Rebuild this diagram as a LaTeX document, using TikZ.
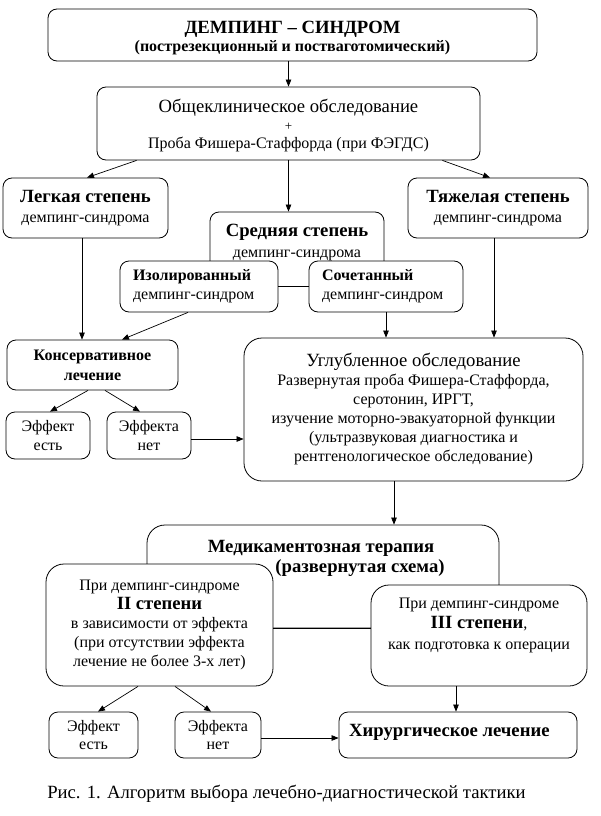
\documentclass[tikz,border=0pt]{standalone}
\usepackage{fontspec}
\setmainfont{Liberation Serif}
\usetikzlibrary{arrows.meta,calc}
\begin{document}
\begin{tikzpicture}[x=1pt,y=-1pt,
  box/.style={draw, line width=0.8pt, rounded corners=9pt, fill=white, inner sep=0pt, align=center},
  bigbox/.style={box, rounded corners=18pt},
  txt/.style={inner sep=0pt, align=center},
  arr/.style={line width=0.7pt, -{Triangle[length=7pt,width=5.5pt]}},
  ln/.style={line width=0.7pt},
  small/.style={font=\fontsize{16}{19}\selectfont},
  hd/.style={font=\fontsize{18.67}{20}\selectfont\bfseries}
]
\useasboundingbox (0,0) rectangle (601,816);
\fill[white] (0,0) rectangle (601,816);

% title
\node[box, minimum width=489, minimum height=52] (title) at (292.5,35) {};
\node[txt, hd] (titleT1) at (292.5,29) {ДЕМПИНГ – СИНДРОМ};
\node[txt, font=\fontsize{16}{20}\selectfont\bfseries] (titleT2) at (292.5,48) {(пострезекционный и постваготомический)};
% general exam
\node[box, minimum width=383, minimum height=73] (obsh) at (288.5,123.5) {};
\node[txt, font=\fontsize{16}{18}\selectfont] (obshT) at (288.5,126)
  {{\fontsize{18.67}{18}\selectfont Общеклиническое обследование}\\ {\fontsize{13}{18}\selectfont +}\\ Проба Фишера-Стаффорда (при ФЭГДС)};

% degrees
\node[box, minimum width=165, minimum height=60, font=\fontsize{16}{20}\selectfont] (legk) at (85.5,208)
  {{\fontsize{18.67}{20}\selectfont\bfseries Легкая степень}\\ демпинг-синдрома};
\node[box, minimum width=180, minimum height=60, font=\fontsize{16}{20}\selectfont] (tyazh) at (498,208)
  {{\fontsize{18.67}{20}\selectfont\bfseries Тяжелая степень}\\ демпинг-синдрома};
\node[box, minimum width=174, minimum height=74.5] (sredn) at (297,249.25) {};
\node[txt, font=\fontsize{16}{20.5}\selectfont] (srednT) at (297,242.5)
  {{\fontsize{18.67}{20.5}\selectfont\bfseries Средняя степень}\\ демпинг-синдрома};
\node[box, minimum width=158, minimum height=51, align=left, small, text width=132] (izol) at (199,286.5)
  {{\bfseries Изолированный}\\ демпинг-синдром};
\node[box, minimum width=154, minimum height=51, align=left, small, text width=128] (sochet) at (386,286.5)
  {{\bfseries Сочетанный}\\ демпинг-синдром};

% conservative
\node[box, minimum width=171, minimum height=50, font=\fontsize{16}{20}\selectfont\bfseries] (konserv) at (92.5,365)
  {Консервативное\\ лечение};
\node[box, minimum width=84, minimum height=47, font=\fontsize{16}{18.5}\selectfont] (eff1) at (48,435.5) {Эффект\\ есть};
\node[box, minimum width=84, minimum height=47, font=\fontsize{16}{18.5}\selectfont] (effno1) at (149,435.5) {Эффекта\\ нет};

% deep exam
\node[bigbox, minimum width=339, minimum height=143, small] (uglub) at (413.5,409.5)
  {{\fontsize{18.67}{19}\selectfont Углубленное обследование}\\ Развернутая проба Фишера-Стаффорда,\\ серотонин, ИРГТ,\\ изучение моторно-эвакуаторной функции\\ (ультразвуковая диагностика и\\ рентгенологическое обследование)};

% drug therapy
\node[bigbox, minimum width=352, minimum height=103] (medik) at (323,576.5) {};
\node[txt, hd] (medikT1) at (321,548) {Медикаментозная терапия};
\node[txt, hd] (medikT2) at (360,568) {(развернутая схема)};
\node[bigbox, minimum width=227, minimum height=122, small] (pri2) at (159.5,625)
  {При демпинг-синдроме\\ {\fontsize{18.67}{19}\selectfont\bfseries II степени}\\ в зависимости от эффекта\\ (при отсутствии эффекта\\ лечение не более 3-х лет)};
\node[bigbox, minimum width=216, minimum height=101] (pri3) at (479,635.5) {};
\node[txt, font=\fontsize{16}{20.5}\selectfont] (pri3T) at (479,625)
  {При демпинг-синдроме\\ {\fontsize{18.67}{20.5}\selectfont\bfseries III степени},\\ как подготовка к операции};

\node[box, minimum width=89, minimum height=46, font=\fontsize{16}{18.5}\selectfont] (eff2) at (93.5,735) {Эффект\\ есть};
\node[box, minimum width=86, minimum height=46, font=\fontsize{16}{18.5}\selectfont] (effno2) at (218,735) {Эффекта\\ нет};
\node[box, minimum width=238, minimum height=46] (hirurg) at (458,735) {};
\node[txt, anchor=west, hd] (hirurgT) at (349,732) {Хирургическое лечение};

\node[txt, font=\fontsize{18.67}{20}\selectfont] (caption) at (286.5,794)
  {Рис. 1. Алгоритм выбора лечебно-диагностической тактики};

% connectors
\draw[arr] (title.south -| obsh) -- (obsh.north);
\draw[arr] ([xshift=40pt]obsh.south west) -- ([xshift=1.5pt]legk.north);
\draw[arr] ([xshift=-38pt]obsh.south east) -- ([xshift=-8pt]tyazh.north);
\draw[arr] (obsh.south) -- (obsh.south |- sredn.north);
\draw[arr] ([xshift=-3.5pt]legk.south) -- ([xshift=-3.5pt]legk.south |- konserv.north);
\draw[arr] ([xshift=-11pt]izol.south) -- ([xshift=29.5pt]konserv.north);
\draw[ln] (izol.east) -- (sochet.west);
\draw[arr] (sochet.south) -- (sochet.south |- uglub.north);
\draw[arr] ([xshift=-4pt]tyazh.south) -- ([xshift=-4pt]tyazh.south |- uglub.north);
\draw[arr] ([xshift=-4.5pt]konserv.south) -- ([xshift=2pt]eff1.north);
\draw[arr] ([xshift=12.5pt]konserv.south) -- ([xshift=-9pt]effno1.north);
\draw[arr] ([yshift=-3.5pt]effno1.east) -- ([yshift=-3.5pt]effno1.east -| uglub.west);
\draw[arr] ([xshift=-19.5pt]uglub.south) -- ([xshift=-19.5pt]uglub.south |- medik.north);
\draw[ln] ([yshift=-3pt]pri2.east) -- ([yshift=-3pt]pri2.east -| pri3.west);
\draw[arr] ([xshift=-21.5pt]pri2.south) -- ([xshift=4.5pt]eff2.north);
\draw[arr] ([xshift=15.5pt]pri2.south) -- ([xshift=-7pt]effno2.north);
\draw[arr] ([xshift=-23pt]pri3.south) -- ([xshift=-23pt]pri3.south |- hirurg.north);
\draw[arr] ([yshift=-3pt]effno2.east) -- ([yshift=-3pt]effno2.east -| hirurg.west);
\end{tikzpicture}
\end{document}
